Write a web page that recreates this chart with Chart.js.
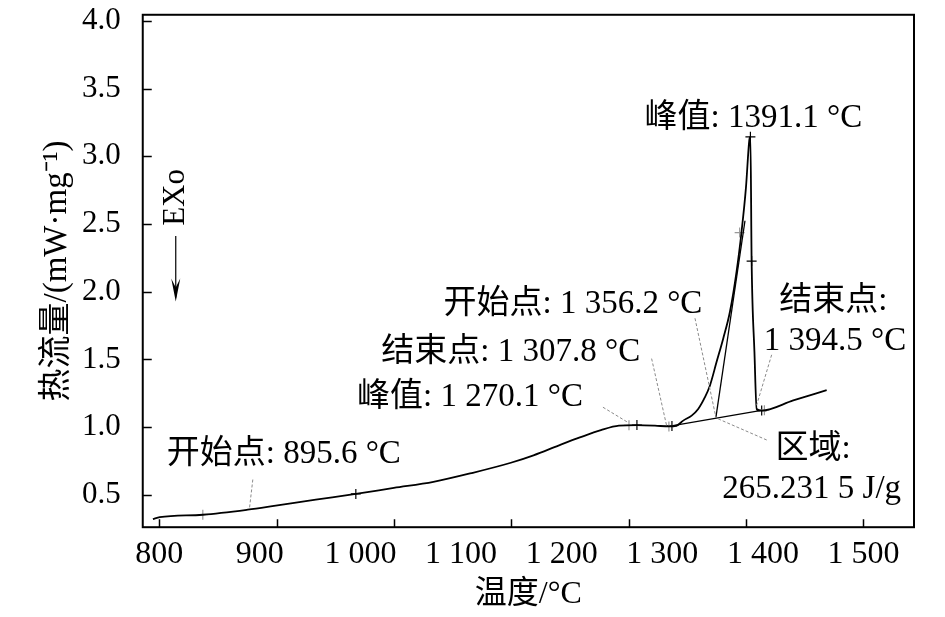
<!DOCTYPE html>
<html>
<head>
<meta charset="utf-8">
<script src="https://cdn.jsdelivr.net/npm/chart.js@4.4.0/dist/chart.umd.min.js"></script>
<style>
    body { margin: 0; background: #fff; }
    #wrap { width: 945px; height: 617px; }
</style>
</head>
<body>
<div id="wrap"><canvas id="dscChart" width="945" height="617"></canvas></div>
<script>
// DSC curve
const temperature = [793.7, 800.5, 843.3, 888.0, 915.8, 955.6, 995.4, 1033.2, 1072.5, 1111.7,
    1149.5, 1172.0, 1196.8, 1218.1, 1239.0, 1256.9, 1274.8, 1292.7, 1306.6, 1314.3,
    1320.8, 1329.2, 1335.7, 1342.4, 1347.4, 1354.0, 1360.6, 1367.3, 1373.9, 1378.9,
    1383.2, 1386.5, 1387.6, 1388.8, 1391.6, 1393.8, 1398.8, 1430.2, 1463.4];
const heatFlow = [0.321, 0.335, 0.353, 0.390, 0.420, 0.464, 0.507, 0.551, 0.596, 0.663,
    0.737, 0.792, 0.864, 0.924, 0.978, 1.011, 1.015, 1.011, 1.005, 1.011,
    1.048, 1.085, 1.134, 1.221, 1.308, 1.482, 1.655, 1.854, 2.152, 2.450,
    2.772, 3.120, 3.144, 2.226, 1.556, 1.134, 1.122, 1.197, 1.273];

// integration baseline and onset tangent
const baselineT = [1310.6, 1397.1];
const baselineHF = [1.011, 1.122];
const tangentT = [1353.3, 1382.2];
const tangentHF = [1.072, 2.524];

// small "+" marks left by the analysis software
const greyMarkT = [843.3, 1266.9, 1306.6, 1376.9, 1401.5];
const greyMarkHF = [0.353, 1.013, 1.005, 2.437, 1.125];
const blackMarkT = [995.4, 1274.8, 1309.6, 1387.6, 1388.8, 1398.8];
const blackMarkHF = [0.507, 1.015, 1.009, 3.144, 2.226, 1.122];

const xTicks = [800, 900, 1000, 1100, 1200, 1300, 1400, 1500];
const xTickLabels = ['800', '900', '1 000', '1 100', '1 200', '1 300', '1 400', '1 500'];
const xTickMarks = [800, 916.7, 1033.3, 1150, 1266.7, 1383.3, 1500];
const yTicks = [0.5, 1.0, 1.5, 2.0, 2.5, 3.0, 3.5, 4.0];
const yTickLabels = ['0.5', '1.0', '1.5', '2.0', '2.5', '3.0', '3.5', '4.0'];
const yTitle = '热流量/(mW·mg⁻¹)';

// text notes (centre, in axis units) and their dashed leader lines
const notes = [
    { text: '开始点: 895.6 °C', x: 923.8, y: 0.799 },
    { text: '峰值: 1 270.1 °C', x: 1108.9, y: 1.221 },
    { text: '结束点: 1 307.8 °C', x: 1149.4, y: 1.556 },
    { text: '开始点: 1 356.2 °C', x: 1211.2, y: 1.906 },
    { text: '峰值: 1391.1 °C', x: 1390.5, y: 3.283 },
    { text: '结束点:', x: 1470.1, y: 1.929 },
    { text: '1 394.5 °C', x: 1471.7, y: 1.631 },
    { text: '区域:', x: 1449.8, y: 0.836 },
    { text: '265.231 5 J/g', x: 1448.5, y: 0.539 }
];
const leaders = [
    [893.0, 0.613, 889.6, 0.395],
    [1241.0, 1.147, 1265.8, 1.035],
    [1289.4, 1.506, 1304.3, 1.011],
    [1332.5, 1.804, 1353.3, 1.072],
    [1408.7, 1.534, 1393.8, 1.162],
    [1403.8, 0.905, 1354.3, 1.065]
];

const FONT = "'Liberation Serif', 'Noto Sans CJK SC', serif";
Chart.defaults.font.family = FONT;
Chart.defaults.font.size = 32;
Chart.defaults.color = '#000';

function pairs(xs, ys) {
    return xs.map((v, i) => ({ x: v, y: ys[i] }));
}

const framePlugin = {
    id: 'frame',
    afterDatasetsDraw(chart) {
        const ctx = chart.ctx;
        const a = chart.chartArea;
        const sx = chart.scales.x;
        const sy = chart.scales.y;
        ctx.save();

        // leader lines
        ctx.strokeStyle = '#8a8a8a';
        ctx.lineWidth = 1;
        ctx.setLineDash([3, 2]);
        for (const l of leaders) {
            ctx.beginPath();
            ctx.moveTo(sx.getPixelForValue(l[0]), sy.getPixelForValue(l[1]));
            ctx.lineTo(sx.getPixelForValue(l[2]), sy.getPixelForValue(l[3]));
            ctx.stroke();
        }
        ctx.setLineDash([]);

        // box
        ctx.strokeStyle = '#000';
        ctx.lineWidth = 2;
        ctx.strokeRect(a.left, a.top, a.right - a.left, a.bottom - a.top);

        // inward ticks
        ctx.lineWidth = 1.5;
        ctx.beginPath();
        for (const v of yTicks) {
            const py = Math.round(sy.getPixelForValue(v)) + 0.5;
            ctx.moveTo(a.left, py);
            ctx.lineTo(a.left + 9, py);
        }
        for (const v of xTickMarks) {
            const px = Math.round(sx.getPixelForValue(v)) + 0.5;
            ctx.moveTo(px, a.bottom);
            ctx.lineTo(px, a.bottom - 8);
        }
        ctx.stroke();

        // notes
        ctx.fillStyle = '#000';
        ctx.font = '33px ' + FONT;
        ctx.textAlign = 'center';
        ctx.textBaseline = 'middle';
        for (const n of notes) {
            ctx.fillText(n.text, sx.getPixelForValue(n.x), sy.getPixelForValue(n.y));
        }

        // y axis title
        ctx.save();
        ctx.translate(a.left - 85, (a.top + a.bottom) / 2);
        ctx.rotate(-Math.PI / 2);
        ctx.font = '33px ' + FONT;
        ctx.fillText(yTitle, 0, 0);
        ctx.restore();

        // EXo arrow
        const ax = sx.getPixelForValue(816.4);
        ctx.save();
        ctx.translate(ax, sy.getPixelForValue(2.696));
        ctx.rotate(-Math.PI / 2);
        ctx.font = '31px ' + FONT;
        ctx.fillText('EXo', 0, 0);
        ctx.restore();
        const y1 = sy.getPixelForValue(2.412);
        const y2 = sy.getPixelForValue(1.928);
        ctx.lineWidth = 1.2;
        ctx.beginPath();
        ctx.moveTo(ax, y1);
        ctx.lineTo(ax, y2 - 4);
        ctx.stroke();
        ctx.beginPath();
        ctx.moveTo(ax, y2);
        ctx.lineTo(ax - 4.5, y2 - 23);
        ctx.lineTo(ax, y2 - 14);
        ctx.lineTo(ax + 4.5, y2 - 23);
        ctx.closePath();
        ctx.fill();

        ctx.restore();
    }
};

new Chart(document.getElementById('dscChart'), {
    type: 'scatter',
    data: {
        datasets: [
            {
                data: pairs(temperature, heatFlow),
                showLine: true,
                borderColor: '#000',
                borderWidth: 1.8,
                pointRadius: 0,
                cubicInterpolationMode: 'monotone'
            },
            {
                data: pairs(baselineT, baselineHF),
                showLine: true,
                borderColor: '#000',
                borderWidth: 1.3,
                pointRadius: 0
            },
            {
                data: pairs(tangentT, tangentHF),
                showLine: true,
                borderColor: '#000',
                borderWidth: 1.3,
                pointRadius: 0
            },
            {
                data: pairs(greyMarkT, greyMarkHF),
                pointStyle: 'cross',
                pointRadius: 5,
                borderColor: '#999',
                borderWidth: 1.2
            },
            {
                data: pairs(blackMarkT, blackMarkHF),
                pointStyle: 'cross',
                pointRadius: 5,
                borderColor: '#000',
                borderWidth: 1.2
            }
        ]
    },
    options: {
        responsive: false,
        animation: false,
        devicePixelRatio: 1,
        layout: { padding: { top: 1, right: 31, left: 68, bottom: 3 } },
        plugins: {
            legend: { display: false },
            tooltip: { enabled: false }
        },
        scales: {
            x: {
                type: 'linear',
                min: 783.6,
                max: 1550.2,
                afterBuildTicks: (axis) => { axis.ticks = xTicks.map(v => ({ value: v })); },
                ticks: {
                    padding: 0,
                    maxRotation: 0,
                    autoSkip: false,
                    callback: (v, i) => xTickLabels[i]
                },
                grid: { display: false },
                border: { display: false },
                title: {
                    display: true,
                    text: '温度/°C',
                    font: { size: 32 },
                    padding: { top: 2, bottom: 0 }
                }
            },
            y: {
                min: 0.261,
                max: 4.045,
                afterBuildTicks: (axis) => { axis.ticks = yTicks.map(v => ({ value: v })); },
                ticks: {
                    padding: 14,
                    autoSkip: false,
                    font: { size: 31, lineHeight: 0.05 },
                    callback: (v, i) => yTickLabels[i]
                },
                grid: { display: false },
                border: { display: false }
            }
        }
    },
    plugins: [framePlugin]
});
</script>
</body>
</html>
